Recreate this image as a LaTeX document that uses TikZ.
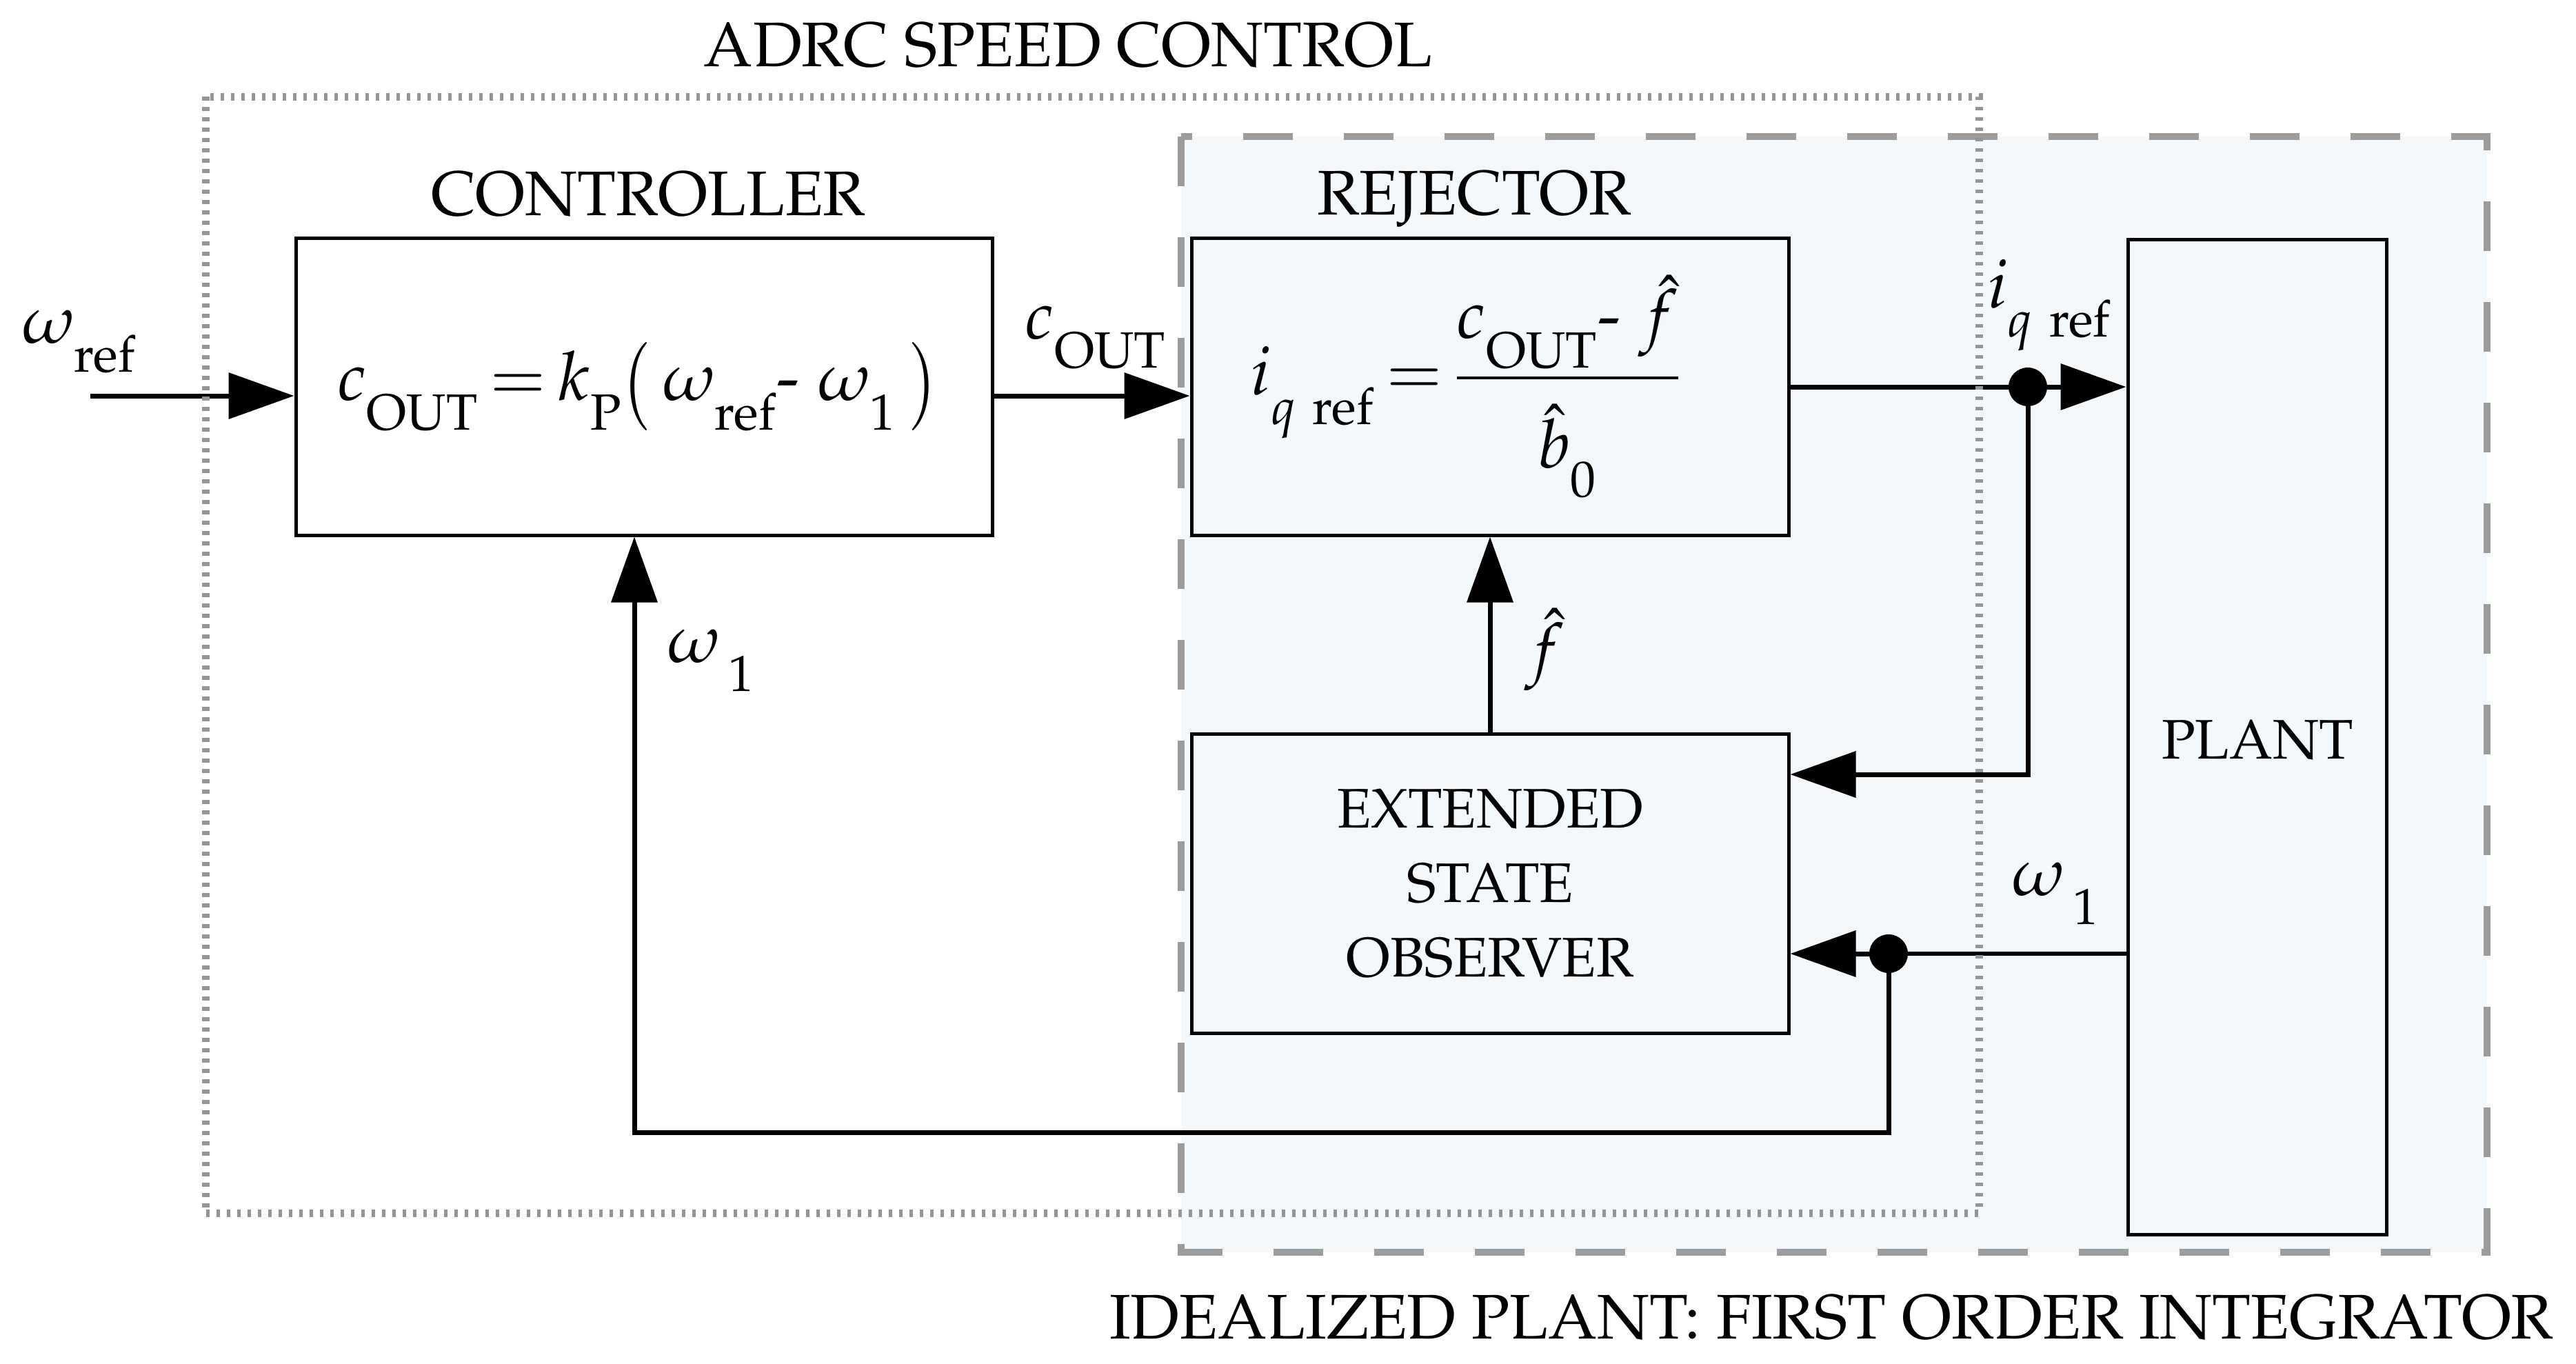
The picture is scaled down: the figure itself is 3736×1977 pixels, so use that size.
\documentclass[tikz,border=0pt]{standalone}
\usepackage[T1]{fontenc}
\usepackage{mathpazo}
\usetikzlibrary{arrows.meta}
\DeclareMathSizes{26}{26}{20}{15}
\DeclareMathSizes{23}{23}{18}{14}
\DeclareMathSizes{28}{28}{21}{16}
\definecolor{fillblue}{HTML}{F3F8FD}
\definecolor{dotgray}{HTML}{959595}
\definecolor{dashgray}{HTML}{9C9C9C}
\newcommand\lsb[1]{_{\raisebox{-0.28em}{$\scriptstyle #1$}}}
\newcommand\tallparen[1]{\mathopen{\raisebox{-0.12em}{\scalebox{1}[1.25]{$#1$}}}}
\newcommand\tallparenr[1]{\mathclose{\raisebox{-0.12em}{\scalebox{1}[1.25]{$#1$}}}}
\tikzset{
  blk/.style={draw, line width=0.5mm, inner sep=0pt},
  arr/.style={line width=0.7mm, -{Triangle[length=9.5mm,width=6.6mm]}},
  ln/.style={line width=0.6mm},
  jdot/.style={circle, fill, inner sep=0pt, minimum size=5.6mm},
  lbl/.style={inner sep=0pt},
  bigfont/.style={font=\fontsize{26}{31}\selectfont},
  midfont/.style={font=\fontsize{23}{30.7}\selectfont},
  mathfont/.style={font=\fontsize{28}{33}\selectfont},
}
\begin{document}
\begin{tikzpicture}[x=0.1mm, y=-0.1mm, bigfont]
\useasboundingbox (0,0) rectangle (3736,1977);
\fill[white] (0,0) rectangle (3736,1977);
% idealized plant region
\fill[fillblue] (1713,198) rectangle (3607,1816);
\draw[dashgray, line width=1.05mm, dash pattern=on 7.2mm off 7.4mm]
  (1713,198) -- (1713,1816) -- (3607,1816) -- (3607,198) -- cycle;

% blocks
\node[blk, mathfont, fill=white, minimum width=101mm, minimum height=43.1mm] (ctrl) at (934,560.5)
  {$c\lsb{\mathrm{OUT}}\,{=}\,k\lsb{\mathrm{P}}\tallparen{(}\,\omega\lsb{\mathrm{ref}}\mbox{-}\;\omega\lsb{1}\,\tallparenr{)}$\kern2mm};
\node[blk, mathfont, fill=fillblue, minimum width=86.6mm, minimum height=43.1mm] (rej) at (2161,560.5)
  {$\displaystyle i\lsb{q\ \mathrm{ref}}\,{=}\,\frac{c\lsb{\mathrm{OUT}}\mbox{-}\;\hat{f}}{\rule{0pt}{33pt}\hat{b}\lsb{0}}$\kern7mm};
\node[blk, align=center, midfont, minimum width=86.6mm, minimum height=43.4mm] (eso) at (2161,1281)
  {EXTENDED\\STATE\\OBSERVER};
\node[blk, minimum width=37.5mm, minimum height=144.3mm] (plant) at (3273.5,1068.5) {};
\node[lbl, midfont, anchor=base] (plantlbl) at (3274,1100) {PLANT};

% titles
\node[lbl, anchor=base] (ttl) at (1549,96) {ADRC SPEED CONTROL};
\node[lbl, anchor=base] (ctrllbl) at (940,312) {CONTROLLER};
\node[lbl, anchor=base] (rejlbl) at (2138,311) {REJECTOR};
\node[lbl, anchor=base] (idl) at (2656,1941) {IDEALIZED PLANT: FIRST ORDER INTEGRATOR};

% signal labels
\node[lbl, mathfont, anchor=base west] (wref) at (32,497) {$\omega\lsb{\mathrm{ref}}$};
\node[lbl, mathfont, anchor=base west] (cout) at (1486,491) {$c\lsb{\mathrm{OUT}}$};
\node[lbl, mathfont, anchor=base west] (iqr) at (2882,446) {$i\lsb{q\ \mathrm{ref}}$};
\node[lbl, mathfont] (fhat) at (2240,942) {$\hat{f}$};
\node[lbl, mathfont, anchor=base west] (w1a) at (968,960) {$\omega\lsb{\,1}$};
\node[lbl, mathfont, anchor=base west] (w1b) at (2918,1298) {$\omega\lsb{\,1}$};

% connectors
\coordinate (inp) at (131,574);
\draw[arr] (inp) -- (inp -| ctrl.west);
\draw[arr] (inp -| ctrl.east) -- (inp -| rej.west);
\coordinate (jq) at (2941,561);
\draw[arr] (jq -| rej.east) -- (jq -| plant.west);
\coordinate (fbq) at (2941,1123);
\draw[arr] (jq) -- (fbq) -- (fbq -| eso.east);
\coordinate (jw) at (2739,1383);
\draw[ln] (jw -| plant.west) -- (jw);
\draw[arr] (jw) -- (jw -| eso.east);
\coordinate (fbw) at (920,1642);
\draw[arr] (jw) -- (jw |- fbw) -- (fbw) -- (fbw |- ctrl.south);
\draw[arr] (eso.north) -- (rej.south);
\node[jdot] (dq) at (jq) {};
\node[jdot] (dw) at (jw) {};

% ADRC speed control boundary
\draw[dotgray, line width=1.1mm, dash pattern=on 0.55mm off 0.95mm] (298,140) rectangle (2870,1759);
\end{tikzpicture}
\end{document}
